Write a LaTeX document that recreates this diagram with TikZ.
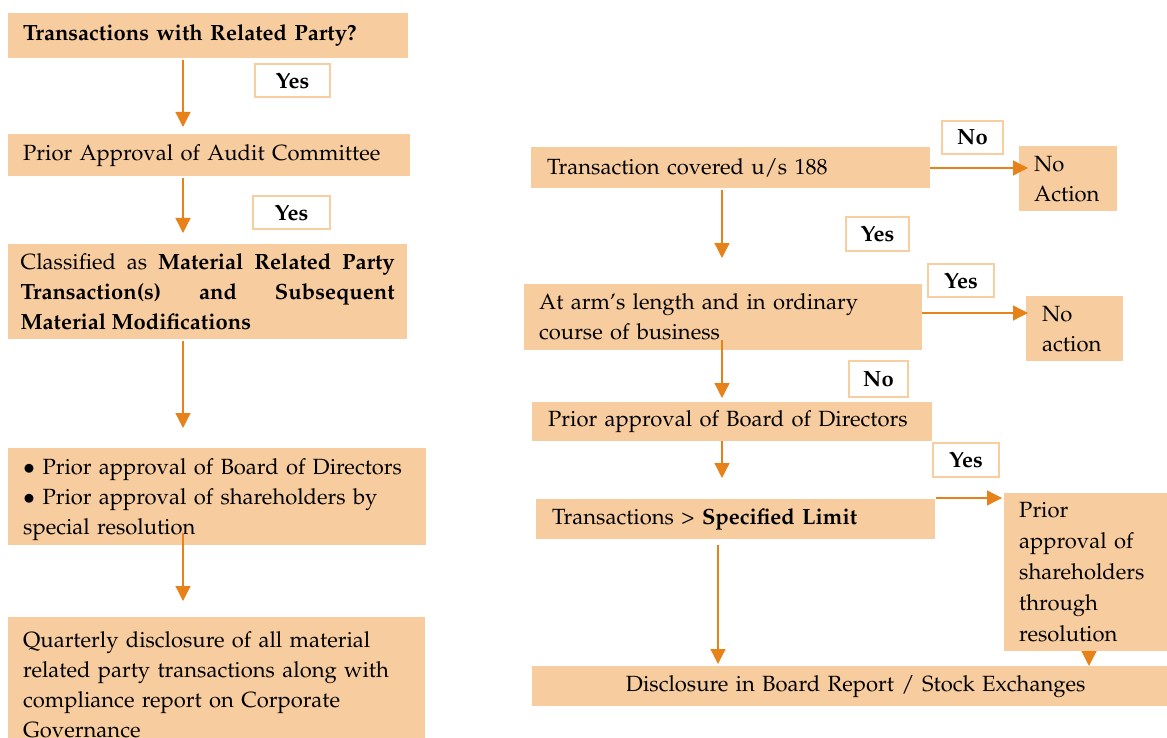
\documentclass[tikz,border=0pt]{standalone}
\usepackage[T1]{fontenc}
\usepackage{mathpazo}
\usetikzlibrary{arrows.meta}
\definecolor{boxfill}{RGB}{247,204,158}
\definecolor{arrc}{RGB}{230,130,25}
\definecolor{lblline}{RGB}{248,205,160}
\newcommand{\fsz}{\fontsize{22}{30}\selectfont}
\begin{document}
\begin{tikzpicture}[x=1pt,y=-1pt,
  box/.style={fill=boxfill, anchor=north west, inner ysep=0pt, align=left, font=\fsz, text=black},
  lbl/.style={draw=lblline, line width=2pt, fill=white, inner sep=0pt, font=\fsz\bfseries, align=center},
  arr/.style={draw=arrc, line width=1.3pt, -{Triangle[length=15pt,width=15pt]}}]
\useasboundingbox (0,0) rectangle (1167,738);
\clip (0,0) rectangle (1167,738);
% left column
\node[box, text width=370, inner xsep=15, minimum height=45] (b1) at (8,13) {\textbf{Transactions with Related Party?}};
\node[box, text width=372, inner xsep=15, minimum height=42] (b2) at (8,134) {Prior Approval of Audit Committee};
\node[box, text width=374, inner xsep=12.5, minimum height=95, align=justify] (b3) at (8,244) {Classified as \textbf{Material Related Party}\linebreak \textbf{Transaction(s) and Subsequent}\linebreak \textbf{Material Modifications}};
\node[box, text width=388, inner xsep=15, minimum height=97, text depth=60pt] (b4) at (8,448) {$\bullet$\ Prior approval of Board of Directors\\ $\bullet$\ Prior approval of shareholders by\\ special resolution};
\node[box, text width=387, inner xsep=15, minimum height=135] (b5) at (8,617) {Quarterly disclosure of all material\\ related party transactions along with\\ compliance report on Corporate\\ Governance};
\node[lbl, minimum width=75, minimum height=33] (l1) at (292.5,80.5) {Yes};
\node[lbl, minimum width=77, minimum height=33] (l2) at (291.5,212.5) {Yes};
% right column
\node[box, text width=367, inner xsep=16, minimum height=41] (r1) at (531,147) {Transaction covered u/s 188};
\node[box, text width=68, inner xsep=15, minimum height=65] (r1n) at (1019,146) {No\\ Action};
\node[box, text width=368, inner xsep=15, minimum height=66] (r2) at (524,284) {At arm's length and in ordinary\\ course of business};
\node[box, text width=65, inner xsep=16, minimum height=65] (r2n) at (1026,296) {No\\ action};
\node[box, text width=368, inner xsep=16, minimum height=39] (r3) at (532,402) {Prior approval of Board of Directors};
\node[box, text width=367, inner xsep=16, minimum height=40] (r4) at (536,499) {Transactions \textgreater{} \textbf{Specified Limit}};
\node[box, text width=133, inner xsep=15, minimum height=158, font=\fontsize{22}{31}\selectfont] (r4y) at (1004,493) {Prior\\ approval of\\ shareholders\\ through\\ resolution};
\node[box, text width=635, inner xsep=0, minimum height=40, align=center] (r5) at (532,666) {\hspace*{12pt}Disclosure in Board Report / Stock Exchanges};
\node[lbl, minimum width=61, minimum height=33] (n1) at (972.5,137.5) {No};
\node[lbl, minimum width=63, minimum height=34] (y1) at (877.5,234) {Yes};
\node[lbl, minimum width=66, minimum height=33] (y2) at (961,280.5) {Yes};
\node[lbl, minimum width=59, minimum height=36] (n2) at (878.5,379) {No};
\node[lbl, minimum width=66, minimum height=34] (y3) at (966,460) {Yes};
% guide coordinates
\coordinate (axl) at (183,0);
\coordinate (axr) at (722,0);
\coordinate (axr2) at (718,0);
\coordinate (axr3) at (1089,0);
\coordinate (hy1) at (0,168);
\coordinate (hy2) at (0,313);
\coordinate (hy3) at (0,498);
% left arrows
\draw[arr, shorten <=2pt, shorten >=7pt] (b1.south -| axl) -- (b2.north -| axl);
\draw[arr, shorten <=2pt, shorten >=11pt] (b2.south -| axl) -- (b3.north -| axl);
\draw[arr, shorten <=2pt, shorten >=20pt] (b3.south -| axl) -- (b4.north -| axl);
\draw[arr, shorten <=-12pt, shorten >=16pt] (b4.south -| axl) -- (b5.north -| axl);
% right arrows
\draw[arr, shorten <=2pt, shorten >=26pt] (r1.south -| axr) -- (r2.north -| axr);
\draw[arr, shorten <=-10pt, shorten >=4pt] (r2.south -| axr) -- (r3.north -| axr);
\draw[arr, shorten >=21pt] (r3.south -| axr) -- (r4.north -| axr);
\draw[arr, shorten <=6pt, shorten >=2pt] (r4.south -| axr2) -- (r5.north -| axr2);
\draw[arr, shorten <=-9pt] (r4y.south -| axr3) -- (r5.north -| axr3);
\draw[arr, shorten >=-9pt] (r1.east |- hy1) -- (r1n.west |- hy1);
\draw[arr, shorten >=-2pt] (r2.east |- hy2) -- (r2n.west |- hy2);
\draw[arr, shorten <=1pt, shorten >=2pt] (r4.east |- hy3) -- (r4y.west |- hy3);
\end{tikzpicture}
\end{document}
